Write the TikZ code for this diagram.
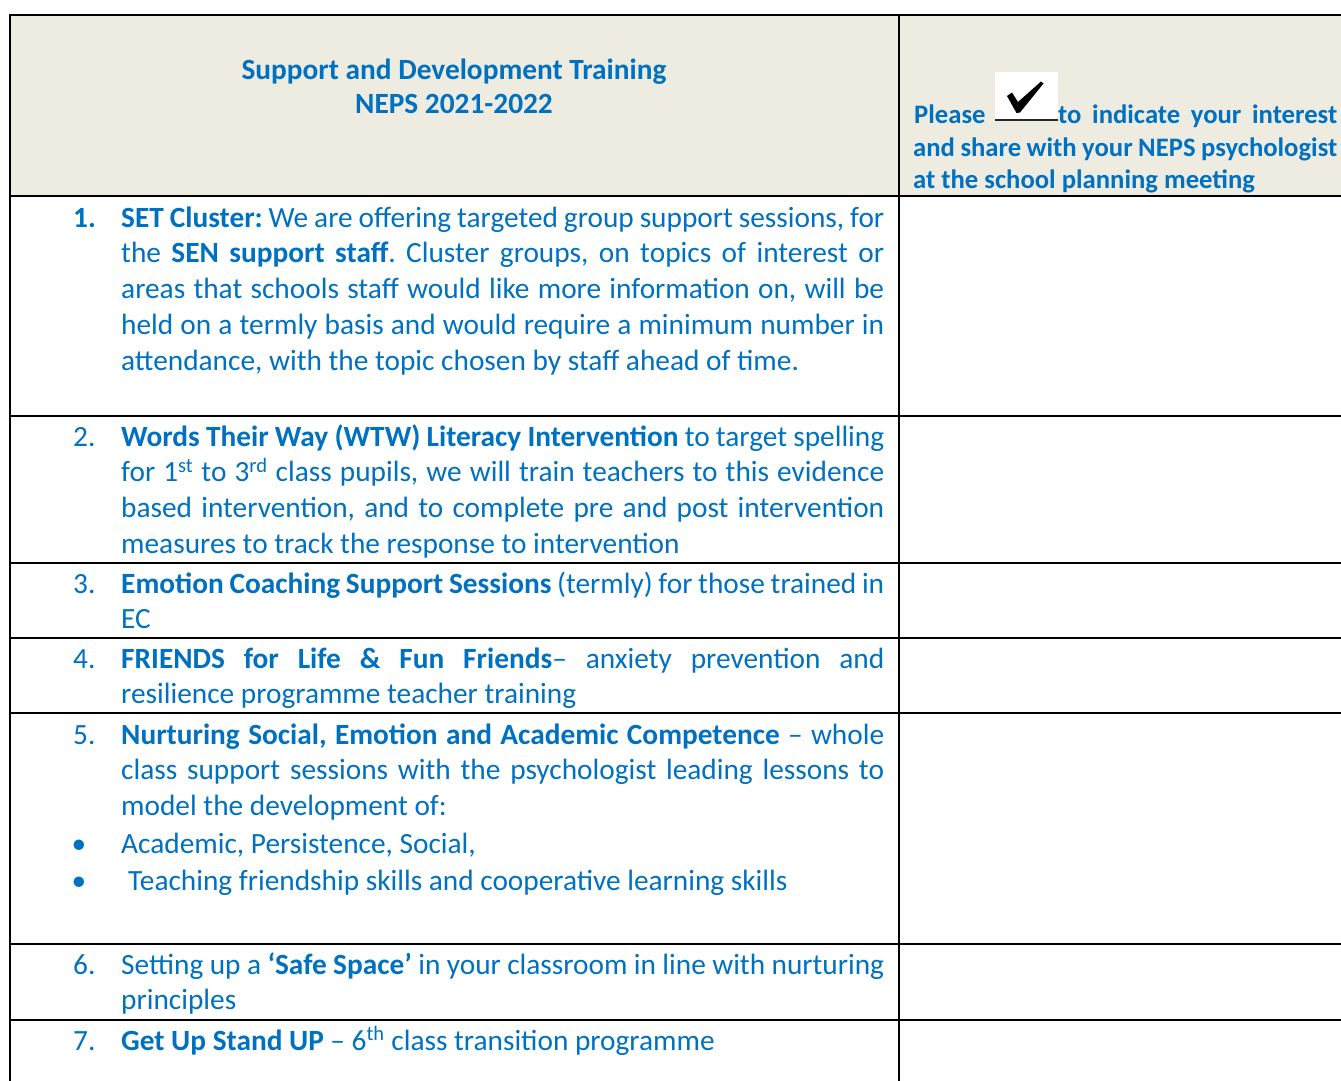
\documentclass[tikz,border=0pt]{standalone}
\usepackage{fontspec}
\setmainfont{Carlito}
\definecolor{neps}{RGB}{0,112,192}
\definecolor{hdrbg}{RGB}{238,236,225}
\newcommand{\jl}[2][763pt]{\makebox[#1][s]{\frenchspacing\spaceskip=0pt plus 1fil\xspaceskip=0pt plus 1fil\relax #2}}
\newcommand{\nat}[1]{\mbox{\spaceskip=0pt\xspaceskip=0pt\relax #1}}
\begin{document}
\begin{tikzpicture}[x=1pt,y=-1pt,
  body/.style={anchor=base west, inner sep=0pt, text=neps, text width=763pt, align=left,
    font=\fontsize{29.33}{35.8}\selectfont},
  num/.style={anchor=base west, inner sep=0pt, text=neps, font=\fontsize{29.33}{35.8}\selectfont},
  bul/.style={anchor=base, inner sep=0pt, text=neps, font=\fontsize{29.33}{35.8}\selectfont},
  hd/.style={inner sep=0pt, text=neps, font=\fontsize{29.33}{35}\selectfont\bfseries},
  hdright/.style={inner sep=0pt, text=neps, font=\fontsize{26.67}{32}\selectfont\bfseries},
  grid/.style={line width=2pt, black, line cap=rect}]
\useasboundingbox (0,0) rectangle (1341,1081);
% header background
\fill[hdrbg] (10,15) rectangle (1341,196);
% grid
\foreach \yy in {15,196,416,563,638,713,944,1020}
  \draw[grid] (10,\yy) -- (1341,\yy);
\draw[grid] (10,15) -- (10,1081);
\draw[grid] (899,15) -- (899,1081);
% header title
\node[hd, anchor=base, text width=700pt, align=center] (title) at (454,79)
  {\nat{Support and Development Training}\\\nat{NEPS 2021-2022}};
% header right column
\node[hdright, anchor=base west] (please) at (914,123) {Please};
\fill[white] (995,72) rectangle (1058,121);
\fill[black!85] (995,118.5) rectangle (1058,121);
\fill[black] (1007,96) -- (1012,92.5) -- (1018,102) -- (1041,81.5) -- (1043.5,83.5)
  -- (1020,112.5) -- (1016.5,113) -- cycle;
\node[hdright, anchor=base west] (hr1) at (1058,123) {\jl[279pt]{to indicate your interest}};
\node[hdright, anchor=base west, text width=424pt, align=left] (hr2) at (913,156)
  {\jl[424pt]{and share with your NEPS psychologist}\\\nat{at the school planning meeting}};
% row 1
\node[num] (n1) at (73,227) {\textbf{1.}};
\node[body] (r1) at (121,227)
  {\jl{\textbf{SET Cluster:} We are offering targeted group support sessions, for}\\
   \jl{the \textbf{SEN support staff}. Cluster groups, on topics of interest or}\\
   \jl{areas that schools staff would like more information on, will be}\\
   \jl{held on a termly basis and would require a minimum number in}\\
   \nat{attendance, with the topic chosen by staff ahead of time.}};
% row 2
\node[num] (n2) at (73,446) {2.};
\node[body] (r2) at (121,446)
  {\jl{\textbf{Words Their Way (WTW) Literacy Intervention} to target spelling}\\
   \jl{for 1\textsuperscript{st} to 3\textsuperscript{rd} class pupils, we will train teachers to this evidence}\\
   \jl{based intervention, and to complete pre and post intervention}\\
   \nat{measures to track the response to intervention}};
% row 3
\node[num] (n3) at (73,593) {3.};
\node[body] (r3) at (121,593)
  {\jl{\textbf{Emotion Coaching Support Sessions} (termly) for those trained in}\\\nat{EC}};
% row 4
\node[num] (n4) at (73,668) {4.};
\node[body] (r4) at (121,668)
  {\jl{\textbf{FRIENDS for Life \& Fun Friends}– anxiety prevention and}\\
   \nat{resilience programme teacher training}};
% row 5
\node[num] (n5) at (73,744) {5.};
\node[body] (r5) at (121,744)
  {\jl{\textbf{Nurturing Social, Emotion and Academic Competence} – whole}\\
   \jl{class support sessions with the psychologist leading lessons to}\\
   \nat{model the development of:}};
\node[bul] (b1) at (79,853) {•};
\node[num] (t1) at (121,853) {Academic, Persistence, Social,};
\node[bul] (b2) at (79,890) {•};
\node[num] (t2) at (128,890) {Teaching friendship skills and cooperative learning skills};
% row 6
\node[num] (n6) at (73,974) {6.};
\node[body] (r6) at (121,974)
  {\jl{Setting up a \textbf{‘Safe Space’} in your classroom in line with nurturing}\\
   \nat{principles}};
% row 7
\node[num] (n7) at (73,1050) {7.};
\node[num] (r7) at (121,1050)
  {\textbf{Get Up Stand UP} – 6\textsuperscript{th} class transition programme};
\end{tikzpicture}
\end{document}
